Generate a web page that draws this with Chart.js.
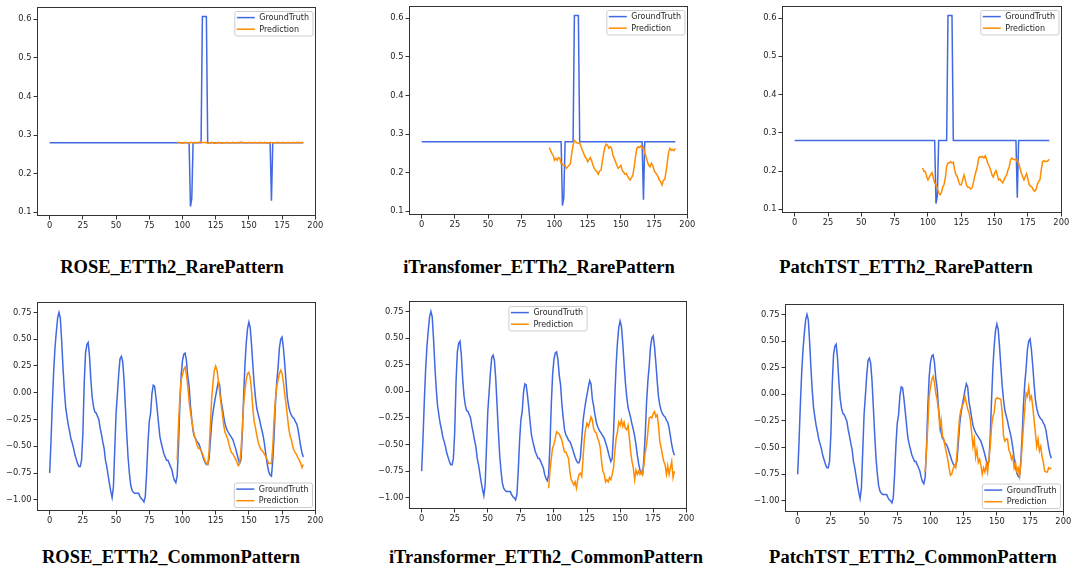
<!DOCTYPE html>
<html><head><meta charset="utf-8">
<script src="https://cdn.jsdelivr.net/npm/chart.js@4.4.1/dist/chart.umd.min.js"></script>
<style>
html,body{margin:0;padding:0;background:#fff;overflow:hidden;width:1072px;height:571px;}
#wrap{position:relative;width:1072px;height:571px;overflow:hidden;}
canvas{position:absolute;}
.ttl{position:absolute;font-family:"Liberation Serif","Times New Roman",serif;font-weight:bold;font-size:18.5px;color:#000;white-space:nowrap;transform:translate(-50%,-50%);}
</style></head><body><div id="wrap"></div>
<script>
// ---------------- DATA ----------------
const seriesNames = ['GroundTruth', 'Prediction'];
const titles = [
  'ROSE_ETTh2_RarePattern', 'iTransfomer_ETTh2_RarePattern', 'PatchTST_ETTh2_RarePattern',
  'ROSE_ETTh2_CommonPattern', 'iTransformer_ETTh2_CommonPattern', 'PatchTST_ETTh2_CommonPattern'
];
const xTicks = [0, 25, 50, 75, 100, 125, 150, 175, 200];
const xTickLabels = ['0', '25', '50', '75', '100', '125', '150', '175', '200'];
const rareTicks = [0.1, 0.2, 0.3, 0.4, 0.5, 0.6];
const rareTickLabels = ['0.1', '0.2', '0.3', '0.4', '0.5', '0.6'];
const commonTicks = [-1, -0.75, -0.5, -0.25, 0, 0.25, 0.5, 0.75];
const commonTickLabels = ['\u22121.00', '\u22120.75', '\u22120.50', '\u22120.25', '0.00', '0.25', '0.50', '0.75'];
const predStart = 96;

const rareGroundTruth = [
  0.28,0.28,0.28,0.28,0.28,0.28,0.28,0.28,0.28,0.28,
  0.28,0.28,0.28,0.28,0.28,0.28,0.28,0.28,0.28,0.28,
  0.28,0.28,0.28,0.28,0.28,0.28,0.28,0.28,0.28,0.28,
  0.28,0.28,0.28,0.28,0.28,0.28,0.28,0.28,0.28,0.28,
  0.28,0.28,0.28,0.28,0.28,0.28,0.28,0.28,0.28,0.28,
  0.28,0.28,0.28,0.28,0.28,0.28,0.28,0.28,0.28,0.28,
  0.28,0.28,0.28,0.28,0.28,0.28,0.28,0.28,0.28,0.28,
  0.28,0.28,0.28,0.28,0.28,0.28,0.28,0.28,0.28,0.28,
  0.28,0.28,0.28,0.28,0.28,0.28,0.28,0.28,0.28,0.28,
  0.28,0.28,0.28,0.28,0.28,0.28,0.28,0.28,0.28,0.28,
  0.28,0.28,0.28,0.28,0.28,0.28,0.115,0.135,0.28,0.28,
  0.28,0.28,0.28,0.28,0.28,0.607,0.607,0.607,0.607,0.28,
  0.28,0.28,0.28,0.28,0.28,0.28,0.28,0.28,0.28,0.28,
  0.28,0.28,0.28,0.28,0.28,0.28,0.28,0.28,0.28,0.28,
  0.28,0.28,0.28,0.28,0.28,0.28,0.28,0.28,0.28,0.28,
  0.28,0.28,0.28,0.28,0.28,0.28,0.28,0.28,0.28,0.28,
  0.28,0.28,0.28,0.28,0.28,0.28,0.28,0.13,0.28,0.28,
  0.28,0.28,0.28,0.28,0.28,0.28,0.28,0.28,0.28,0.28,
  0.28,0.28,0.28,0.28,0.28,0.28,0.28,0.28,0.28,0.28,
  0.28,0.28
];
const roseRarePred = [
  0.280,0.281,0.280,0.280,0.279,0.280,0.281,0.281,0.280,0.280,
  0.281,0.280,0.280,0.281,0.281,0.280,0.281,0.282,0.281,0.281,
  0.280,0.281,0.280,0.279,0.280,0.280,0.281,0.280,0.279,0.279,
  0.280,0.281,0.280,0.280,0.279,0.280,0.280,0.281,0.281,0.280,
  0.280,0.280,0.281,0.280,0.280,0.281,0.281,0.281,0.282,0.281,
  0.281,0.280,0.280,0.280,0.281,0.281,0.280,0.280,0.281,0.281,
  0.280,0.280,0.281,0.280,0.280,0.280,0.281,0.280,0.279,0.280,
  0.281,0.281,0.280,0.280,0.280,0.281,0.281,0.281,0.280,0.280,
  0.281,0.280,0.280,0.281,0.281,0.280,0.280,0.281,0.281,0.280,
  0.281,0.280,0.281,0.280,0.281,0.281
];
const itransRarePred = [
  0.265,0.258,0.250,0.245,0.232,0.237,0.232,0.239,0.237,0.224,
  0.222,0.219,0.219,0.211,0.215,0.219,0.224,0.250,0.271,0.283,
  0.280,0.277,0.276,0.277,0.267,0.258,0.250,0.241,0.237,0.228,
  0.234,0.239,0.231,0.219,0.211,0.206,0.202,0.196,0.205,0.206,
  0.228,0.250,0.267,0.274,0.271,0.263,0.267,0.263,0.245,0.237,
  0.228,0.219,0.211,0.215,0.219,0.206,0.202,0.196,0.198,0.191,
  0.185,0.181,0.187,0.193,0.215,0.241,0.263,0.267,0.265,0.269,
  0.263,0.267,0.250,0.241,0.228,0.219,0.215,0.224,0.219,0.206,
  0.200,0.196,0.189,0.181,0.176,0.168,0.181,0.182,0.202,0.228,
  0.254,0.263,0.258,0.260,0.257,0.263
];
const patchRarePred = [
  0.208,0.199,0.199,0.186,0.177,0.184,0.190,0.196,0.182,0.169,
  0.164,0.156,0.143,0.138,0.143,0.158,0.164,0.182,0.212,0.221,
  0.221,0.225,0.221,0.223,0.203,0.190,0.186,0.173,0.164,0.164,
  0.177,0.190,0.177,0.162,0.158,0.158,0.153,0.156,0.169,0.186,
  0.199,0.212,0.234,0.238,0.236,0.238,0.234,0.240,0.230,0.219,
  0.212,0.203,0.190,0.184,0.195,0.201,0.190,0.177,0.179,0.173,
  0.169,0.177,0.184,0.190,0.203,0.212,0.230,0.234,0.231,0.230,
  0.231,0.225,0.221,0.208,0.195,0.186,0.177,0.186,0.193,0.179,
  0.164,0.160,0.158,0.151,0.147,0.151,0.164,0.173,0.177,0.203,
  0.225,0.227,0.225,0.225,0.227,0.231
];
const commonGroundTruth = [
  -0.75,-0.45,-0.10,0.20,0.42,0.57,0.70,0.75,0.70,0.49,
  0.24,0.03,-0.13,-0.22,-0.30,-0.36,-0.43,-0.47,-0.52,-0.58,
  -0.62,-0.66,-0.69,-0.69,-0.63,-0.38,0.09,0.37,0.45,0.47,
  0.34,0.12,-0.04,-0.13,-0.18,-0.19,-0.22,-0.25,-0.33,-0.39,
  -0.46,-0.52,-0.63,-0.69,-0.77,-0.85,-0.92,-0.98,-0.88,-0.53,
  -0.19,-0.01,0.18,0.32,0.34,0.29,0.12,-0.13,-0.38,-0.60,
  -0.75,-0.86,-0.91,-0.93,-0.94,-0.94,-0.94,-0.94,-0.97,-0.99,
  -1.00,-1.02,-0.97,-0.75,-0.47,-0.27,-0.19,-0.01,0.07,0.06,
  -0.04,-0.16,-0.29,-0.41,-0.47,-0.52,-0.57,-0.60,-0.63,-0.63,
  -0.66,-0.69,-0.72,-0.78,-0.82,-0.84,-0.78,-0.50,-0.12,0.16,
  0.30,0.36,0.37,0.30,0.15,0.06,-0.12,-0.25,-0.36,-0.41,
  -0.43,-0.46,-0.47,-0.50,-0.54,-0.58,-0.62,-0.65,-0.67,-0.67,
  -0.62,-0.45,-0.28,-0.18,-0.10,-0.03,0.04,0.10,0.07,-0.07,
  -0.14,-0.22,-0.29,-0.33,-0.36,-0.38,-0.40,-0.42,-0.44,-0.48,
  -0.52,-0.57,-0.62,-0.66,-0.63,-0.40,-0.05,0.25,0.46,0.60,
  0.66,0.61,0.45,0.26,0.08,-0.05,-0.15,-0.20,-0.25,-0.31,
  -0.36,-0.42,-0.50,-0.60,-0.68,-0.74,-0.77,-0.78,-0.63,-0.40,
  -0.10,0.10,0.24,0.42,0.50,0.52,0.42,0.27,0.10,-0.05,
  -0.13,-0.18,-0.21,-0.23,-0.24,-0.27,-0.29,-0.34,-0.42,-0.50,
  -0.56,-0.60
];
const roseCommonPred = [
  -0.63,-0.30,-0.05,0.12,0.17,0.22,0.24,0.17,0.06,-0.08,
  -0.18,-0.26,-0.34,-0.40,-0.44,-0.49,-0.52,-0.52,-0.54,-0.57,
  -0.60,-0.64,-0.66,-0.67,-0.55,-0.30,-0.05,0.10,0.21,0.25,
  0.21,0.12,0.00,-0.10,-0.19,-0.30,-0.37,-0.40,-0.43,-0.48,
  -0.53,-0.56,-0.57,-0.60,-0.62,-0.65,-0.68,-0.66,-0.55,-0.35,
  -0.12,0.02,0.12,0.18,0.19,0.14,0.02,-0.15,-0.27,-0.33,
  -0.40,-0.46,-0.50,-0.53,-0.54,-0.56,-0.58,-0.60,-0.63,-0.66,
  -0.66,-0.66,-0.50,-0.25,-0.06,0.06,0.12,0.18,0.21,0.18,
  0.10,-0.01,-0.11,-0.22,-0.33,-0.40,-0.44,-0.50,-0.54,-0.56,
  -0.58,-0.61,-0.63,-0.66,-0.70,-0.67
];
const itransCommonPred = [
  -0.91,-0.75,-0.63,-0.53,-0.50,-0.44,-0.38,-0.39,-0.40,-0.43,
  -0.46,-0.52,-0.57,-0.57,-0.60,-0.63,-0.75,-0.83,-0.85,-0.88,
  -0.85,-0.91,-0.83,-0.78,-0.77,-0.80,-0.63,-0.44,-0.35,-0.30,
  -0.33,-0.29,-0.24,-0.27,-0.35,-0.38,-0.39,-0.44,-0.47,-0.53,
  -0.66,-0.75,-0.78,-0.85,-0.83,-0.85,-0.81,-0.83,-0.78,-0.72,
  -0.57,-0.44,-0.38,-0.29,-0.32,-0.27,-0.33,-0.29,-0.35,-0.36,
  -0.32,-0.44,-0.57,-0.66,-0.72,-0.83,-0.74,-0.78,-0.75,-0.78,
  -0.75,-0.78,-0.69,-0.57,-0.50,-0.38,-0.25,-0.24,-0.25,-0.21,
  -0.19,-0.24,-0.22,-0.32,-0.47,-0.53,-0.60,-0.66,-0.69,-0.78,
  -0.70,-0.78,-0.72,-0.66,-0.81,-0.75
];
const patchCommonPred = [
  -0.73,-0.52,-0.30,-0.02,0.07,0.14,0.17,0.11,0.01,-0.05,
  -0.14,-0.31,-0.24,-0.39,-0.42,-0.49,-0.55,-0.61,-0.69,-0.76,
  -0.75,-0.70,-0.67,-0.69,-0.55,-0.36,-0.21,-0.14,-0.11,-0.08,
  -0.02,-0.08,-0.14,-0.17,-0.24,-0.36,-0.49,-0.42,-0.59,-0.52,
  -0.64,-0.61,-0.67,-0.75,-0.69,-0.73,-0.66,-0.73,-0.61,-0.49,
  -0.30,-0.21,-0.17,-0.05,-0.03,-0.04,-0.04,-0.05,-0.17,-0.39,
  -0.44,-0.42,-0.42,-0.52,-0.55,-0.61,-0.58,-0.69,-0.64,-0.72,
  -0.69,-0.77,-0.67,-0.49,-0.30,-0.14,0.01,-0.02,0.07,-0.05,
  -0.02,-0.11,-0.24,-0.36,-0.49,-0.42,-0.53,-0.49,-0.58,-0.64,
  -0.72,-0.73,-0.73,-0.69,-0.70,-0.69
];

// ---------------- LAYOUT / STYLE ----------------
const GT_COLOR = '#4169E1';
const PRED_COLOR = '#FF8C00';
const AXIS_COLOR = '#333333';
const TICK_FONT = { family: 'DejaVu Sans', size: 8.3 };
const LEGEND_FS = 8;
const Y_AXIS_W = 40, X_AXIS_H = 18, PAD_T = 8, PAD_R = 12;

const panels = [
  { L:37,  T:7,   R:316,  B:216, gt:rareGroundTruth,   pred:roseRarePred,     kind:'rare',   legend:'ur', tx:172, ty:267 },
  { L:409, T:6,   R:688,  B:215, gt:rareGroundTruth,   pred:itransRarePred,   kind:'rare',   legend:'ur', tx:539, ty:267 },
  { L:782, T:6,   R:1062, B:213, gt:rareGroundTruth,   pred:patchRarePred,    kind:'rare',   legend:'ur', tx:906, ty:267 },
  { L:37,  T:302, R:316,  B:511, gt:commonGroundTruth, pred:roseCommonPred,   kind:'common', legend:'lr', tx:171, ty:557 },
  { L:409, T:301, R:687,  B:509, gt:commonGroundTruth, pred:itransCommonPred, kind:'common', legend:'uc', tx:546, ty:557 },
  { L:785, T:304, R:1064, B:512, gt:commonGroundTruth, pred:patchCommonPred,  kind:'common', legend:'lr', tx:913, ty:557 }
];
const yRange = { rare: [0.0904, 0.6316], common: [-1.105, 0.848] };

const xIndex = commonGroundTruth.map((_, i) => i);

const framePlugin = {
  id: 'frameLegend',
  afterDraw(chart) {
    const { ctx, chartArea: a } = chart;
    ctx.save();
    ctx.strokeStyle = AXIS_COLOR;
    ctx.lineWidth = 1;
    ctx.strokeRect(a.left + 0.5, a.top + 0.5, a.width - 1, a.height - 1);
    const loc = chart.options.plugins.frameLegend.loc;
    ctx.font = LEGEND_FS + 'px "DejaVu Sans"';
    const items = chart.data.datasets.slice().sort((p, q) => p.legendIndex - q.legendIndex);
    const tw = Math.max(...items.map(d => ctx.measureText(d.label).width));
    const handleL = 18, padL = 2, gap = 4.5, padRt = 4;
    const w = padL + handleL + gap + tw + padRt;
    const h = 24.5;
    let x, y;
    if (loc === 'ur') { x = a.right - 3 - w; y = a.top + 4.5; }
    else if (loc === 'lr') { x = a.right - 3.5 - w; y = a.bottom - 3.5 - h; }
    else { x = (a.left + a.right) / 2 - w / 2; y = a.top + 5.5; }
    const r = 2;
    ctx.beginPath();
    ctx.moveTo(x + r, y);
    ctx.arcTo(x + w, y, x + w, y + h, r);
    ctx.arcTo(x + w, y + h, x, y + h, r);
    ctx.arcTo(x, y + h, x, y, r);
    ctx.arcTo(x, y, x + w, y, r);
    ctx.closePath();
    ctx.fillStyle = 'rgba(255,255,255,0.8)';
    ctx.fill();
    ctx.strokeStyle = '#cccccc';
    ctx.lineWidth = 1;
    ctx.stroke();
    items.forEach((d, i) => {
      const cy = y + 6.1 + i * 11.6;
      ctx.strokeStyle = d.borderColor;
      ctx.lineWidth = 1.5;
      ctx.beginPath();
      ctx.moveTo(x + padL, cy);
      ctx.lineTo(x + padL + handleL, cy);
      ctx.stroke();
      ctx.fillStyle = '#262626';
      ctx.textBaseline = 'middle';
      ctx.textAlign = 'left';
      ctx.fillText(d.label, x + padL + handleL + gap, cy + 0.5);
    });
    ctx.restore();
  }
};

const wrap = document.getElementById('wrap');
panels.forEach((p, k) => {
  const cv = document.createElement('canvas');
  const cw = (p.R - p.L) + Y_AXIS_W + PAD_R;
  const ch = (p.B - p.T) + PAD_T + X_AXIS_H;
  cv.width = cw; cv.height = ch;
  cv.style.width = cw + 'px'; cv.style.height = ch + 'px';
  cv.style.left = (p.L - Y_AXIS_W) + 'px';
  cv.style.top = (p.T - PAD_T) + 'px';
  wrap.appendChild(cv);

  const t = document.createElement('div');
  t.className = 'ttl';
  t.textContent = titles[k];
  t.style.left = p.tx + 'px';
  t.style.top = p.ty + 'px';
  wrap.appendChild(t);

  const yT = p.kind === 'rare' ? rareTicks : commonTicks;
  const yL = p.kind === 'rare' ? rareTickLabels : commonTickLabels;
  const predFull = xIndex.map(i => (i < predStart ? null : p.pred[i - predStart]));

  new Chart(cv, {
    type: 'line',
    data: {
      labels: xIndex,
      datasets: [
        { label: seriesNames[1], data: predFull, borderColor: PRED_COLOR, borderWidth: 1.5, pointRadius: 0, tension: 0, fill: false, order: 0, legendIndex: 1 },
        { label: seriesNames[0], data: p.gt, borderColor: GT_COLOR, borderWidth: 1.5, pointRadius: 0, tension: 0, fill: false, order: 1, legendIndex: 0 }
      ]
    },
    options: {
      responsive: false,
      animation: false,
      devicePixelRatio: 1,
      layout: { padding: { top: PAD_T, right: PAD_R, left: 0, bottom: 0 } },
      plugins: { legend: { display: false }, tooltip: { enabled: false }, frameLegend: { loc: p.legend } },
      scales: {
        x: {
          type: 'linear', min: -9.55, max: 200.55,
          afterBuildTicks: ax => { ax.ticks = xTicks.map(v => ({ value: v })); },
          afterFit: s => { s.height = X_AXIS_H; },
          grid: { display: true, drawOnChartArea: false, drawTicks: true, tickLength: 3.5, tickColor: AXIS_COLOR, tickWidth: 1 },
          border: { display: false },
          ticks: { autoSkip: false, maxRotation: 0, padding: 1, color: '#262626', font: TICK_FONT,
                   callback: v => { const i = xTicks.indexOf(v); return i >= 0 ? xTickLabels[i] : ''; } }
        },
        y: {
          type: 'linear', min: yRange[p.kind][0], max: yRange[p.kind][1],
          afterBuildTicks: ax => { ax.ticks = yT.map(v => ({ value: v })); },
          afterFit: s => { s.width = Y_AXIS_W; },
          grid: { display: true, drawOnChartArea: false, drawTicks: true, tickLength: 3.5, tickColor: AXIS_COLOR, tickWidth: 1 },
          border: { display: false },
          ticks: { autoSkip: false, padding: 2, color: '#262626', font: TICK_FONT,
                   callback: v => { const i = yT.findIndex(q => Math.abs(q - v) < 1e-9); return i >= 0 ? yL[i] : ''; } }
        }
      }
    },
    plugins: [framePlugin]
  });
});
</script></body></html>
